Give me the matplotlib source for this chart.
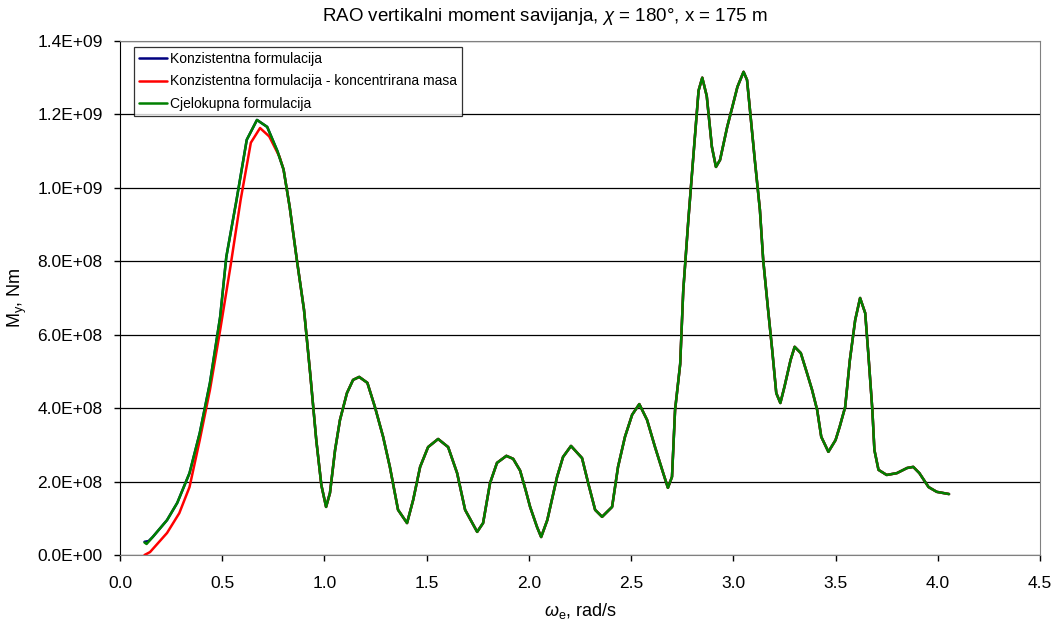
import matplotlib
matplotlib.use("Agg")
import matplotlib.pyplot as plt
from matplotlib.ticker import FuncFormatter, MultipleLocator

plt.rcParams['font.family'] = ['Liberation Sans', 'DejaVu Sans']
plt.rcParams['mathtext.fontset'] = 'custom'
plt.rcParams['mathtext.rm'] = 'Liberation Sans'
plt.rcParams['mathtext.it'] = 'Liberation Sans:italic'

# Common part of all series (omega from 0.80 onwards), values in 1e8 Nm
x_tail = [0.80, 0.83, 0.865, 0.90, 0.93, 0.96, 0.985, 1.008, 1.027, 1.052, 1.076, 1.11, 1.14, 1.17, 1.21,
          1.247, 1.287, 1.32, 1.36, 1.404, 1.434, 1.468, 1.507, 1.556, 1.605, 1.649, 1.688, 1.747, 1.776,
          1.81, 1.844, 1.89, 1.923, 1.957, 1.985, 2.006, 2.04, 2.06, 2.09, 2.138, 2.167, 2.206, 2.26, 2.29,
          2.324, 2.358, 2.407, 2.436, 2.47, 2.505, 2.54, 2.578, 2.617, 2.657, 2.68, 2.70, 2.715, 2.74,
          2.755, 2.78, 2.803, 2.83, 2.848, 2.87, 2.895, 2.915, 2.935, 2.97, 2.995, 3.02, 3.05, 3.067,
          3.08, 3.105, 3.13, 3.146, 3.17, 3.19, 3.21, 3.23, 3.25, 3.28, 3.30, 3.33, 3.36, 3.385, 3.41,
          3.43, 3.465, 3.50, 3.52, 3.547, 3.57, 3.596, 3.62, 3.645, 3.66, 3.68, 3.69, 3.71, 3.75, 3.80,
          3.85, 3.88, 3.91, 3.955, 3.995, 4.055]
y_tail = [10.50, 9.48, 8.04, 6.68, 4.96, 3.13, 1.90, 1.31, 1.69, 2.86, 3.68, 4.41, 4.77, 4.85, 4.69,
          4.03, 3.22, 2.40, 1.23, 0.87, 1.50, 2.40, 2.94, 3.16, 2.94, 2.23, 1.23, 0.63, 0.87,
          1.96, 2.51, 2.70, 2.62, 2.30, 1.75, 1.31, 0.76, 0.49, 0.95, 2.13, 2.67, 2.97, 2.64, 1.96,
          1.23, 1.04, 1.31, 2.40, 3.22, 3.82, 4.11, 3.68, 2.94, 2.23, 1.83, 2.13, 3.95, 5.20,
          7.20, 9.13, 10.76, 12.65, 13.00, 12.50, 11.12, 10.57, 10.76, 11.66, 12.20, 12.75, 13.16, 12.94,
          12.20, 10.76, 9.40, 8.04, 6.68, 5.59, 4.41, 4.14, 4.58, 5.31, 5.67, 5.50, 4.96, 4.50, 3.95,
          3.22, 2.81, 3.13, 3.49, 4.03, 5.31, 6.40, 7.00, 6.59, 5.50, 3.95, 2.86, 2.32, 2.18, 2.23,
          2.37, 2.40, 2.23, 1.85, 1.72, 1.66]

# Low-frequency parts that differ between series
x_green_head = [0.12, 0.13, 0.16, 0.23, 0.28, 0.34, 0.39, 0.44, 0.49, 0.52, 0.57, 0.62, 0.67, 0.72, 0.77]
y_green_head = [0.34, 0.30, 0.49, 0.95, 1.42, 2.23, 3.32, 4.69, 6.49, 8.12, 9.67, 11.31, 11.85, 11.66, 11.00]
x_blue_head = [0.12, 0.14, 0.16, 0.23, 0.28, 0.34, 0.39, 0.44, 0.49, 0.52, 0.57, 0.62, 0.67, 0.72, 0.77]
y_blue_head = [0.36, 0.38, 0.49, 0.95, 1.42, 2.23, 3.32, 4.69, 6.49, 8.12, 9.67, 11.31, 11.85, 11.66, 11.00]
x_red_head = [0.12, 0.147, 0.23, 0.29, 0.34, 0.39, 0.44, 0.49, 0.54, 0.59, 0.64, 0.685, 0.73, 0.78]
y_red_head = [0.0, 0.08, 0.60, 1.14, 1.85, 3.13, 4.50, 6.13, 7.85, 9.67, 11.23, 11.63, 11.40, 10.85]

labels = ["Konzistentna formulacija",
          "Konzistentna formulacija - koncentrirana masa",
          "Cjelokupna formulacija"]
colors = ["#000080", "#FF0000", "#008000"]

series = [
    (x_blue_head + x_tail, [v * 1e8 for v in y_blue_head + y_tail]),
    (x_red_head + x_tail, [v * 1e8 for v in y_red_head + y_tail]),
    (x_green_head + x_tail, [v * 1e8 for v in y_green_head + y_tail]),
]

fig = plt.figure(figsize=(10.58, 6.28), dpi=100)
ax = fig.add_axes([120/1058, 1-555/628, 920/1058, 514/628])

for (xs, ys), lab, c in zip(series, labels, colors):
    ax.plot(xs, ys, color=c, lw=1.8, label=lab, solid_joinstyle='round', solid_capstyle='round')

ax.set_xlim(0, 4.5)
ax.set_ylim(0, 1.4e9)
ax.xaxis.set_major_locator(MultipleLocator(0.5))
ax.yaxis.set_major_locator(MultipleLocator(2e8))
ax.xaxis.set_major_formatter(FuncFormatter(lambda v, p: f"{v:.1f}"))
ax.yaxis.set_major_formatter(FuncFormatter(lambda v, p: f"{v:.1E}"))
ax.grid(axis='y', color='#000000', lw=0.9)
ax.set_axisbelow(True)
ax.tick_params(direction='out', length=4.5, width=1, labelsize=12.5, colors='black')
ax.tick_params(axis='x', pad=10.5)
ax.tick_params(axis='y', pad=8)
for s in ['top', 'right', 'bottom']:
    ax.spines[s].set_color('#808080')
ax.spines['left'].set_color('#000000')

fig.text(545/1058, 1 - 21/628, r"RAO vertikalni moment savijanja, $\chi$ = 180°, x = 175 m",
         fontsize=13.5, ha='center', va='baseline')
ax.set_xlabel(r"$\omega_{\mathrm{e}}$, rad/s", fontsize=13, labelpad=7)
ax.set_ylabel(r"M$_{\mathrm{y}}$, Nm", fontsize=13, labelpad=6)

leg = ax.legend(loc='upper left', bbox_to_anchor=(8/920, 1.0), fontsize=10, frameon=True,
                fancybox=False, edgecolor='black', handlelength=2.0, handletextpad=0.25,
                borderpad=0.35, labelspacing=0.62, borderaxespad=0.43)
leg.get_frame().set_linewidth(0.9)

fig.savefig("out.png", dpi=100)
